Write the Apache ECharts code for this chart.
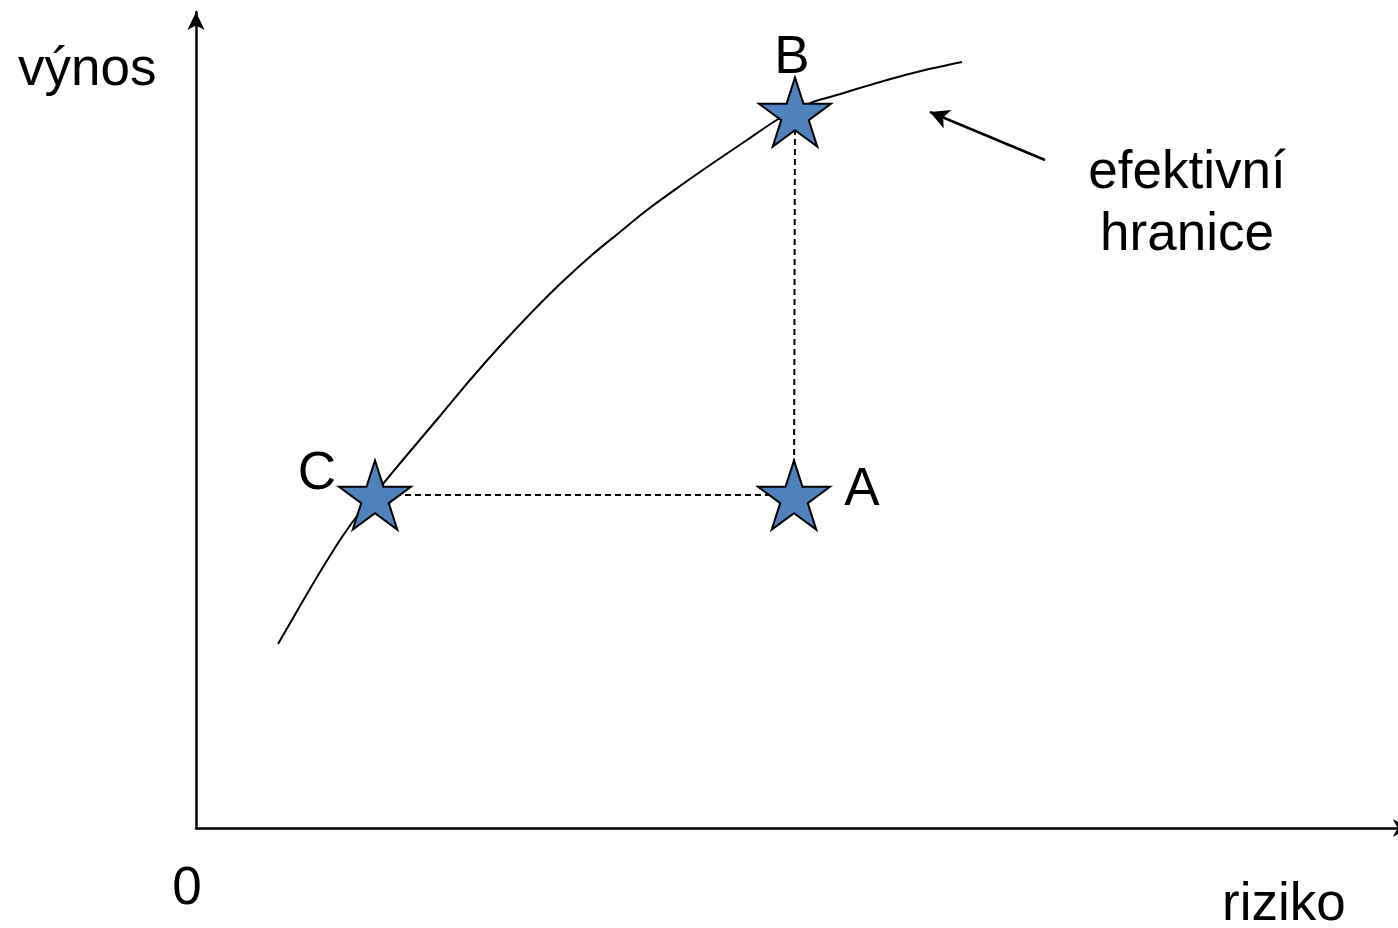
<!DOCTYPE html>
<html>
<head>
<meta charset="utf-8">
<script src="https://cdn.jsdelivr.net/npm/echarts@6/dist/echarts.min.js"></script>
<style>
html, body { margin: 0; padding: 0; background: #fff; }
#chart { width: 1398px; height: 928px; }
</style>
</head>
<body>
<div id="chart"></div>
<script>
// efektivní hranice – body křivky (riziko, výnos)
var frontierX = [82, 104, 124, 146, 164, 182, 211, 244, 274, 304, 334, 364, 397, 424, 451, 484, 517, 551, 584, 617, 634, 691, 729, 766];
var frontierY = [184, 222, 256, 291, 316, 338, 373, 412, 448, 482, 514, 544, 574, 596, 618, 642, 665, 688, 710, 726, 731, 748, 758, 766];
// portfolia
var pointNames = ['C', 'A', 'B'];
var pointX = [179, 598, 599];
var pointY = [333, 333, 716];
// šipka k popisku
var arrowFrom = [849, 668];
var arrowTo = [734, 716];

var font = "'Liberation Sans', Arial, sans-serif";
var fontSize = 53;

var chart = echarts.init(document.getElementById('chart'));

var frontier = frontierX.map(function (x, i) { return [x, frontierY[i]]; });

var starPath = 'path://M50,0 L61.2,34.5 L97.6,34.5 L68.2,55.9 L79.4,90.5 L50,69.1 L20.6,90.5 L31.8,55.9 L2.4,34.5 L38.8,34.5 Z';

var labelOffsets = { B: [-3, -54], C: [-58, -21], A: [68, -5] };

function txt(s, x, y, align) {
	return {
		type: 'text',
		x: x,
		y: y,
		style: {
			text: s,
			fontSize: fontSize,
			fontFamily: font,
			fill: '#000',
			align: align || 'left',
			verticalAlign: 'middle'
		}
	};
}

var option = {
	animation: false,
	backgroundColor: '#fff',
	grid: { left: 196, right: 0, top: 12, bottom: 100 },
	xAxis: {
		type: 'value',
		min: 0,
		max: 1202,
		axisLine: { show: true, symbol: ['none', 'arrow'], symbolSize: [13, 18], symbolOffset: [0, 13], lineStyle: { color: '#000', width: 2.5 } },
		axisTick: { show: false },
		axisLabel: { show: false },
		splitLine: { show: false }
	},
	yAxis: {
		type: 'value',
		min: 0,
		max: 816,
		axisLine: { show: true, symbol: ['none', 'arrow'], symbolSize: [13, 18], lineStyle: { color: '#000', width: 2.5 } },
		axisTick: { show: false },
		axisLabel: { show: false },
		splitLine: { show: false }
	},
	series: [{
		// C – A
		type: 'line',
		data: [[pointX[0], pointY[0]], [pointX[1], pointY[1]]],
		symbol: 'none',
		lineStyle: { color: '#000', width: 2, type: [6, 4] },
		z: 1
	}, {
		// A – B
		type: 'line',
		data: [[pointX[1], pointY[1]], [pointX[2], pointY[2]]],
		symbol: 'none',
		lineStyle: { color: '#000', width: 2, type: [6, 4] },
		z: 1
	}, {
		type: 'line',
		data: frontier,
		smooth: 0.3,
		symbol: 'none',
		lineStyle: { color: '#000', width: 2 },
		z: 2,
		markLine: {
			silent: true,
			symbol: ['none', 'arrow'],
			symbolSize: [15, 19],
			lineStyle: { color: '#000', width: 2.5, type: 'solid' },
			label: { show: false },
			data: [[{ coord: arrowFrom }, { coord: arrowTo }]]
		}
	}, {
		type: 'scatter',
		data: pointNames.map(function (n, i) {
			return { name: n, value: [pointX[i], pointY[i]], label: { offset: labelOffsets[n] } };
		}),
		symbol: starPath,
		symbolSize: [72, 69],
		itemStyle: { color: '#4F81BD', opacity: 1, borderColor: '#000', borderWidth: 2 },
		label: {
			show: true,
			position: 'inside',
			formatter: '{b}',
			color: '#000',
			fontSize: fontSize,
			fontFamily: font,
			align: 'center',
			verticalAlign: 'middle'
		},
		z: 3
	}],
	graphic: [
		txt('výnos', 18, 70),
		txt('0', 187, 889, 'center'),
		txt('riziko', 1222, 905),
		txt('efektivní', 1187, 173, 'center'),
		txt('hranice', 1187, 235, 'center')
	]
};

chart.setOption(option);
</script>
</body>
</html>
